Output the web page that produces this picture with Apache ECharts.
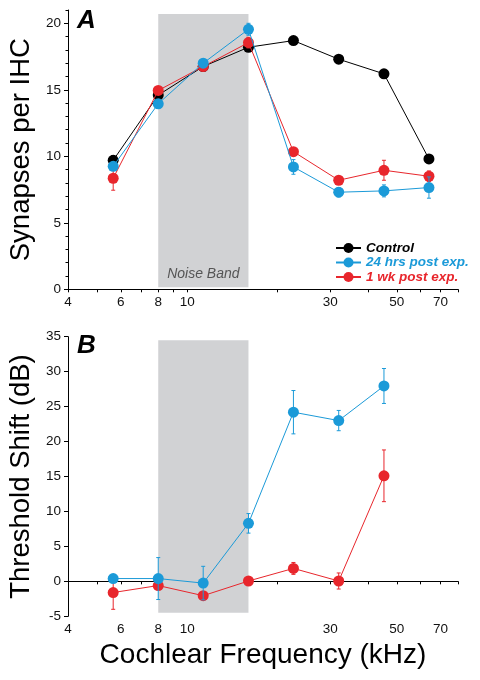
<!DOCTYPE html>
<html>
<head>
<meta charset="utf-8">
<script src="https://cdn.jsdelivr.net/npm/echarts@6/dist/echarts.min.js"></script>
<style>
html,body{margin:0;padding:0;background:#fff;}
#chart{width:480px;height:680px;}
</style>
</head>
<body>
<div id="chart"></div>
<script>
// ---- data ----
const freqA = [5.66, 8, 11.3, 16, 22.6, 32, 45.3, 64];
const controlA = [9.7, 14.6, 16.75, 18.2, 18.7, 17.3, 16.2, 9.8];
const controlAErr = [0.35, 0.15, 0.15, 0.15, 0.15, 0.15, 0.15, 0.15];
const hrs24A = [9.25, 13.95, 17.0, 19.55, 9.2, 7.3, 7.4, 7.65];
const hrs24AErr = [0.3, 0.2, 0.3, 0.45, 0.55, 0.35, 0.45, 0.8];
const wk1A = [8.35, 14.95, 16.75, 18.55, 10.35, 8.2, 8.95, 8.5];
const wk1AErr = [0.9, 0.2, 0.2, 0.4, 0.25, 0.2, 0.75, 0.4];

const freqB = [5.66, 8, 11.3, 16, 22.6, 32, 45.3];
const hrs24B = [0.4, 0.4, -0.25, 8.3, 24.2, 23.0, 27.95];
const hrs24BErr = [0.3, 3.0, 2.4, 1.4, 3.1, 1.45, 2.5];
const wk1B = [-1.6, -0.6, -2.05, 0.05, 1.85, 0.05, 15.1];
const wk1BErr = [2.4, 0.5, 0.3, 0.3, 0.85, 1.15, 3.7];

const noiseBand = [8, 16];
const noiseBandYA = [0.15, 20.7];
const noiseBandYB = [-4.48, 34.5];

const xLabelValues = [4, 6, 8, 10, 30, 50, 70];
const xTickValues = [4, 5, 6, 7, 8, 9, 10, 20, 30, 40, 50, 60, 70, 80];
const yALabelValues = [0, 5, 10, 15, 20];
const yAMinorTicks = [0,1,2,3,4,5,6,7,8,9,10,11,12,13,14,15,16,17,18,19,20,21];
const yBLabelValues = [-5, 0, 5, 10, 15, 20, 25, 30, 35];

const names = ['Control', '24 hrs post exp.', '1 wk post exp.'];
const colors = ['#000000', '#1b9ad8', '#e8262c'];

// ---- chart ----
const FONT = '"Liberation Sans", Arial, Helvetica, sans-serif';
const chart = echarts.init(document.getElementById('chart'), null, {renderer: 'canvas'});

function zip(xs, ys) { return xs.map((x, i) => [x, ys[i]]); }

function lineSeries(name, color, xs, ys, xi, yi, z) {
  return {
    name: name, type: 'line', xAxisIndex: xi, yAxisIndex: yi,
    data: zip(xs, ys), symbol: 'circle', symbolSize: 11,
    itemStyle: {color: color}, lineStyle: {color: color, width: 1},
    z: z, animation: false
  };
}

function errSeries(name, color, xs, ys, errs, xi, yi, z) {
  return {
    name: name, type: 'custom', xAxisIndex: xi, yAxisIndex: yi, z: z,
    data: xs.map((x, i) => [x, ys[i] - errs[i], ys[i] + errs[i]]),
    encode: {x: 0, y: [1, 2]},
    animation: false, silent: true,
    renderItem: function (params, api) {
      const x = api.value(0);
      const lo = api.coord([x, api.value(1)]);
      const hi = api.coord([x, api.value(2)]);
      const c = 2;
      const st = {stroke: color, lineWidth: 1};
      return {type: 'group', children: [
        {type: 'line', shape: {x1: lo[0], y1: lo[1], x2: hi[0], y2: hi[1]}, style: st},
        {type: 'line', shape: {x1: lo[0] - c, y1: lo[1], x2: lo[0] + c, y2: lo[1]}, style: st},
        {type: 'line', shape: {x1: hi[0] - c, y1: hi[1], x2: hi[0] + c, y2: hi[1]}, style: st}
      ]};
    }
  };
}

function bandSeries(xi, yi, yr, withLabel) {
  return {
    name: 'band' + xi, type: 'line', xAxisIndex: xi, yAxisIndex: yi, data: [], z: 0,
    animation: false, silent: true,
    markArea: {
      silent: true,
      itemStyle: {color: '#d1d2d4', opacity: 1},
      label: withLabel ? {show: true, position: 'insideBottom', distance: 6,
        formatter: 'Noise Band', color: '#555', fontStyle: 'italic', fontSize: 14, fontFamily: FONT} : {show: false},
      data: [[{xAxis: noiseBand[0], yAxis: yr[0]}, {xAxis: noiseBand[1], yAxis: yr[1]}]]
    }
  };
}

function xAxisCfg(gi) {
  return {
    type: 'log', logBase: 10, gridIndex: gi, min: 4, max: 80,
    axisLine: {show: true, lineStyle: {color: '#000', width: 1}},
    axisTick: {show: true, inside: false, length: 3, customValues: xTickValues, lineStyle: {color: '#000'}},
    minorTick: {show: false},
    axisLabel: {show: true, customValues: xLabelValues, margin: 6, color: '#111', fontSize: 13.5, fontFamily: FONT,
      formatter: v => String(v)},
    splitLine: {show: false}
  };
}

const option = {
  animation: false,
  backgroundColor: '#fff',
  textStyle: {fontFamily: FONT},
  grid: [
    {left: 68, right: 22, top: 10, height: 279.3, outerBoundsMode: 'none', containLabel: false},
    {left: 68, right: 22, top: 336.7, height: 279.6, outerBoundsMode: 'none', containLabel: false}
  ],
  xAxis: [
    xAxisCfg(0),
    Object.assign(xAxisCfg(1), {name: 'Cochlear Frequency (kHz)', nameLocation: 'middle', nameGap: 25,
      nameTextStyle: {fontSize: 28, color: '#000', fontFamily: FONT}})
  ],
  yAxis: [
    {type: 'value', gridIndex: 0, min: 0, max: 21, interval: 5, position: 'left',
     name: 'Synapses per IHC', nameLocation: 'middle', nameGap: 32,
     nameTextStyle: {fontSize: 27.5, color: '#000', fontFamily: FONT},
     axisLine: {show: true, lineStyle: {color: '#000', width: 1}},
     axisTick: {show: true, length: 4, customValues: yALabelValues, lineStyle: {color: '#000'}},
     axisLabel: {customValues: yALabelValues, margin: 7, color: '#111', fontSize: 13.5, fontFamily: FONT},
     splitLine: {show: false}},
    {type: 'value', gridIndex: 0, min: 0, max: 21, interval: 5, position: 'left', offset: 0,
     axisLine: {show: false},
     axisTick: {show: true, length: 2.5, customValues: yAMinorTicks, lineStyle: {color: '#000'}},
     axisLabel: {show: false}, splitLine: {show: false}},
    {type: 'value', gridIndex: 1, min: -5, max: 35, interval: 5, position: 'left',
     name: 'Threshold Shift (dB)', nameLocation: 'middle', nameGap: 32,
     nameTextStyle: {fontSize: 27.5, color: '#000', fontFamily: FONT},
     axisLine: {show: true, lineStyle: {color: '#000', width: 1}},
     axisTick: {show: true, length: 4, customValues: yBLabelValues, lineStyle: {color: '#000'}},
     axisLabel: {customValues: yBLabelValues, margin: 7, color: '#111', fontSize: 13.5, fontFamily: FONT},
     splitLine: {show: false}}
  ],
  legend: {
    orient: 'vertical', left: 330, top: 236, itemWidth: 25, itemHeight: 12.5, itemGap: 0.5,
    textStyle: {fontSize: 13.5, fontWeight: 'bold', fontStyle: 'italic', fontFamily: FONT, lineHeight: 14},
    data: [
      {name: names[0], textStyle: {color: colors[0]}},
      {name: names[1], textStyle: {color: colors[1]}},
      {name: names[2], textStyle: {color: colors[2]}}
    ],
    selectedMode: false
  },
  graphic: [
    {type: 'text', left: 77, top: 8, style: {text: 'A', font: 'italic bold 26px ' + FONT, fill: '#000'}},
    {type: 'text', left: 77, top: 333, style: {text: 'B', font: 'italic bold 26px ' + FONT, fill: '#000'}}
  ],
  series: [
    bandSeries(0, 0, noiseBandYA, true),
    bandSeries(1, 2, noiseBandYB, false),
    errSeries('e0', colors[0], freqA, controlA, controlAErr, 0, 0, 2),
    lineSeries(names[0], colors[0], freqA, controlA, 0, 0, 3),
    errSeries('e2', colors[2], freqA, wk1A, wk1AErr, 0, 0, 4),
    lineSeries(names[2], colors[2], freqA, wk1A, 0, 0, 5),
    errSeries('e1', colors[1], freqA, hrs24A, hrs24AErr, 0, 0, 6),
    lineSeries(names[1], colors[1], freqA, hrs24A, 0, 0, 7),
    errSeries('e3', colors[2], freqB, wk1B, wk1BErr, 1, 2, 4),
    lineSeries(names[2] + ' ', colors[2], freqB, wk1B, 1, 2, 5),
    errSeries('e4', colors[1], freqB, hrs24B, hrs24BErr, 1, 2, 6),
    lineSeries(names[1] + ' ', colors[1], freqB, hrs24B, 1, 2, 7)
  ]
};
chart.setOption(option);
</script>
</body>
</html>
